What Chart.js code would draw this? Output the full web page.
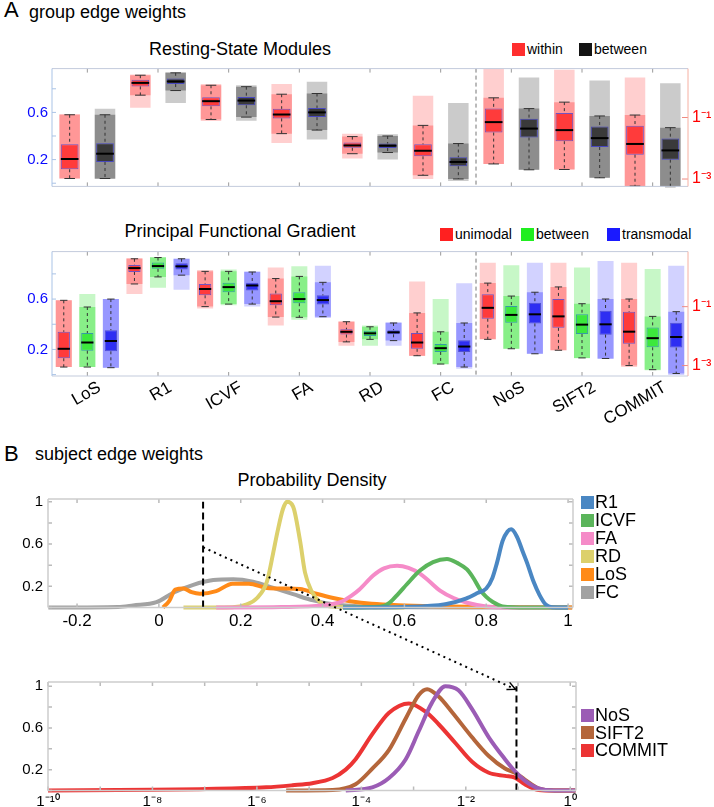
<!DOCTYPE html>
<html>
<head>
<meta charset="utf-8">
<script src="https://cdn.jsdelivr.net/npm/chart.js@4.4.1/dist/chart.umd.min.js"></script>
<style>
  body { margin: 0; width: 714px; height: 807px; position: relative; overflow: hidden; background: #fff;
         font-family: "Liberation Sans", Arial, sans-serif; color: #000; }
  canvas, .t, .item { position: absolute; }
  .t { line-height: 1; white-space: nowrap; }
  .c { text-align: center; }
  .item { display: flex; align-items: center; white-space: nowrap; }
  .sq { display: inline-block; width: 13px; height: 13px; margin-right: 2px; }
  #overlay { left: 0; top: 0; pointer-events: none; }
</style>
</head>
<body>

<div class="t" style="left:4px;top:-1px;font-size:22px">A</div>
<div class="t" style="left:29px;top:3px;font-size:18px">group edge weights</div>
<div class="t c" style="left:0;width:480px;top:40px;font-size:18px">Resting-State Modules</div>
<div class="item" style="left:512px;top:41px;font-size:14px"><span class="sq" style="background:#ff2e2e"></span>within</div>
<div class="item" style="left:579px;top:41px;font-size:14px"><span class="sq" style="background:#141414"></span>between</div>
<canvas id="rsChart" width="714" height="145" style="left:0;top:55px"></canvas>

<div class="t c" style="left:0;width:480px;top:222px;font-size:18px">Principal Functional Gradient</div>
<div class="item" style="left:440px;top:226px;font-size:14px"><span class="sq" style="background:#ff2020"></span>unimodal</div>
<div class="item" style="left:521px;top:226px;font-size:14px"><span class="sq" style="background:#20ee20"></span>between</div>
<div class="item" style="left:607px;top:226px;font-size:14px"><span class="sq" style="background:#1a1aff"></span>transmodal</div>
<canvas id="pfgChart" width="714" height="190" style="left:0;top:238px"></canvas>

<div class="t" style="left:4px;top:443px;font-size:22px">B</div>
<div class="t" style="left:35px;top:445px;font-size:18px">subject edge weights</div>
<div class="t c" style="left:0;width:624px;top:471px;font-size:18px">Probability Density</div>
<canvas id="densChart" width="714" height="145" style="left:0;top:485px"></canvas>
<div id="legTop"></div>

<canvas id="logChart" width="714" height="139" style="left:0;top:668px"></canvas>
<div id="legBottom"></div>

<canvas id="overlay" width="714" height="807"></canvas>

<script>
// categories
const measures = ['LoS', 'R1', 'ICVF', 'FA', 'RD', 'FC', 'NoS', 'SIFT2', 'COMMIT'];
const nLeft = 6; // first 6 on the linear (left) axis, the rest on the log10 (right) axis

// box stats: [lower whisker, q1, median, q3, upper whisker]; NoS/SIFT2/COMMIT given as log10
const rsWithin = [
  [0.04, 0.118, 0.205, 0.33, 0.58],
  [0.746, 0.82, 0.85, 0.877, 0.915],
  [0.54, 0.651, 0.695, 0.728, 0.83],
  [0.42, 0.549, 0.582, 0.63, 0.754],
  [0.25, 0.30, 0.32, 0.344, 0.395],
  [0.067, 0.228, 0.275, 0.33, 0.49],
  [-2.51, -1.49, -1.15, -0.71, -0.36],
  [-2.69, -1.77, -1.41, -0.85, -0.5],
  [-3.23, -2.21, -1.86, -1.27, -0.92]
];
const rsWithinCloud = [[0.04, 0.587], [0.64, 0.92], [0.528, 0.84], [0.34, 0.84], [0.21, 0.42],
  [0.036, 0.74], [-2.51, 0.59], [-2.69, 0.55], [-3.23, 0.3]];

const rsBetween = [
  [0.04, 0.18, 0.25, 0.338, 0.58],
  [0.785, 0.84, 0.862, 0.887, 0.935],
  [0.56, 0.66, 0.70, 0.73, 0.818],
  [0.45, 0.56, 0.60, 0.638, 0.76],
  [0.26, 0.298, 0.318, 0.336, 0.40],
  [0.036, 0.144, 0.18, 0.22, 0.336],
  [-2.7, -1.65, -1.36, -1.04, -0.71],
  [-2.96, -1.96, -1.67, -1.29, -0.95],
  [-3.25, -2.37, -2.07, -1.68, -1.33]
];
const rsBetweenCloud = [[0.036, 0.63], [0.68, 0.94], [0.53, 0.83], [0.37, 0.86], [0.20, 0.415],
  [0.018, 0.68], [-2.7, 0.30], [-2.96, 0.2], [-3.25, 0.11]];

const pfgUni = [
  [0.06, 0.13, 0.205, 0.34, 0.59],
  [0.72, 0.815, 0.846, 0.87, 0.92],
  [0.54, 0.63, 0.68, 0.72, 0.82],
  [0.457, 0.55, 0.583, 0.645, 0.763],
  [0.26, 0.318, 0.34, 0.36, 0.42],
  [0.15, 0.205, 0.255, 0.33, 0.49],
  [-2.11, -1.41, -1.04, -0.58, -0.2],
  [-2.48, -1.72, -1.33, -0.74, -0.33],
  [-3.0, -2.26, -1.85, -1.17, -0.74]
];
const pfgUniCloud = [[0.06, 0.59], [0.64, 0.927], [0.525, 0.83], [0.39, 0.85], [0.23, 0.424],
  [0.147, 0.74], [-2.11, 0.49], [-2.48, 0.49], [-3.05, 0.49]];

const pfgBetween = [
  [0.06, 0.19, 0.255, 0.33, 0.537],
  [0.776, 0.84, 0.862, 0.89, 0.93],
  [0.56, 0.655, 0.695, 0.73, 0.82],
  [0.455, 0.567, 0.60, 0.655, 0.78],
  [0.28, 0.306, 0.328, 0.348, 0.38],
  [0.084, 0.18, 0.21, 0.243, 0.34],
  [-2.43, -1.55, -1.28, -0.98, -0.64],
  [-2.74, -1.93, -1.61, -1.26, -0.9],
  [-3.14, -2.38, -2.07, -1.71, -1.33]
];
const pfgBetweenCloud = [[0.06, 0.64], [0.69, 0.935], [0.55, 0.835], [0.436, 0.86], [0.23, 0.39],
  [0.08, 0.60], [-2.43, 0.41], [-2.75, 0.33], [-3.16, 0.28]];

const pfgTrans = [
  [0.055, 0.185, 0.267, 0.353, 0.6],
  [0.79, 0.835, 0.86, 0.885, 0.92],
  [0.56, 0.668, 0.708, 0.73, 0.815],
  [0.46, 0.557, 0.592, 0.63, 0.733],
  [0.27, 0.32, 0.336, 0.353, 0.41],
  [0.06, 0.18, 0.223, 0.273, 0.41],
  [-2.6, -1.57, -1.26, -0.87, -0.51],
  [-2.76, -1.95, -1.6, -1.14, -0.74],
  [-3.27, -2.39, -2.03, -1.55, -1.17]
];
const pfgTransCloud = [[0.055, 0.6], [0.675, 0.92], [0.54, 0.82], [0.45, 0.865], [0.23, 0.417],
  [0.047, 0.726], [-2.6, 0.49], [-2.78, 0.55], [-3.32, 0.39]];

// density curves, panel B top: [value, density]
const r1Curve = [[0.45, 0], [0.6, 0.005], [0.7, 0.03], [0.75, 0.085], [0.78, 0.14], [0.80, 0.18], [0.815, 0.28],
  [0.826, 0.42], [0.84, 0.63], [0.852, 0.72], [0.861, 0.74], [0.875, 0.67], [0.89, 0.52], [0.90, 0.42],
  [0.915, 0.25], [0.93, 0.12], [0.945, 0.03], [0.96, 0.003], [1.0, 0]];
const icvfCurve = [[0.45, 0], [0.52, 0.004], [0.55, 0.015], [0.565, 0.05], [0.585, 0.13], [0.606, 0.22],
  [0.638, 0.35], [0.67, 0.43], [0.704, 0.46], [0.73, 0.42], [0.753, 0.36], [0.77, 0.27], [0.785, 0.17],
  [0.80, 0.1], [0.817, 0.05], [0.84, 0.01], [0.9, 0], [1.0, 0]];
const faCurve = [[0.14, 0], [0.3, 0.004], [0.40, 0.02], [0.443, 0.05], [0.47, 0.11], [0.49, 0.17],
  [0.523, 0.3], [0.55, 0.37], [0.582, 0.395], [0.61, 0.375], [0.638, 0.32], [0.66, 0.25], [0.687, 0.16],
  [0.72, 0.09], [0.753, 0.045], [0.80, 0.01], [0.85, 0], [1.0, 0]];
const rdCurve = [[0.06, 0], [0.18, 0.003], [0.215, 0.03], [0.24, 0.09], [0.264, 0.245], [0.279, 0.51],
  [0.29, 0.72], [0.303, 0.93], [0.313, 1.0], [0.328, 0.955], [0.345, 0.63], [0.357, 0.333], [0.373, 0.155],
  [0.394, 0.05], [0.42, 0.01], [0.5, 0], [0.6, 0]];
const losCurve = [[0.01, 0], [0.025, 0.06], [0.04, 0.17], [0.06, 0.18], [0.08, 0.145], [0.1, 0.13],
  [0.14, 0.155], [0.18, 0.225], [0.22, 0.225], [0.264, 0.185], [0.3, 0.18], [0.345, 0.175], [0.385, 0.13],
  [0.426, 0.09], [0.467, 0.06], [0.52, 0.035], [0.6, 0.02], [0.7, 0.01], [0.85, 0.004], [1.01, 0]];
const fcCurve = [[-0.27, 0], [-0.1, 0.005], [-0.063, 0.02], [-0.006, 0.05], [0.035, 0.14], [0.084, 0.215],
  [0.133, 0.26], [0.182, 0.268], [0.23, 0.245], [0.28, 0.185], [0.328, 0.126], [0.377, 0.067],
  [0.426, 0.03], [0.5, 0.008], [0.6, 0.002], [0.75, 0], [1.01, 0]];

// density curves, panel B bottom: [log10 value, density]
const nosCurve = [[-4.3, 0], [-3.79, 0.03], [-3.47, 0.12], [-3.15, 0.3], [-2.9, 0.57], [-2.65, 0.84],
  [-2.39, 1.0], [-2.14, 0.96], [-1.88, 0.78], [-1.56, 0.51], [-1.25, 0.3], [-1.06, 0.185], [-0.87, 0.095],
  [-0.61, 0.02], [-0.3, 0], [0.1, 0]];
const sift2Curve = [[-5.44, 0], [-4.55, 0.005], [-4.11, 0.06], [-3.79, 0.21], [-3.47, 0.39], [-3.15, 0.69],
  [-2.9, 0.915], [-2.74, 0.97], [-2.52, 0.9], [-2.27, 0.755], [-1.88, 0.51], [-1.56, 0.33], [-1.25, 0.21],
  [-1.06, 0.17], [-0.87, 0.105], [-0.61, 0.02], [-0.3, 0], [0.1, 0]];
const commitCurve = [[-10, 0], [-8, 0.006], [-7.1, 0.013], [-5.82, 0.03], [-5.32, 0.05], [-4.94, 0.07],
  [-4.55, 0.12], [-4.3, 0.2], [-4.11, 0.3], [-3.79, 0.54], [-3.47, 0.745], [-3.09, 0.835], [-2.77, 0.755],
  [-2.52, 0.635], [-2.2, 0.455], [-1.88, 0.275], [-1.56, 0.17], [-1.25, 0.14], [-1.06, 0.124],
  [-0.87, 0.06], [-0.61, 0.005], [-0.3, 0], [0.1, 0]];

// thresholds marked by the dashed lines, and the dotted arrow between them
const cutoffLinear = 0.108;
const cutoffLog = -1.03;
const arrowFrom = [0.108, 0.57];
const arrowTo = [-1.05, 0.97];

const sup = { '-': '\u207B', '0': '\u2070', '1': '\u00B9', '2': '\u00B2', '3': '\u00B3', '4': '\u2074',
  '5': '\u2075', '6': '\u2076', '7': '\u2077', '8': '\u2078', '9': '\u2079' };
function powLabel(e) {
  return '1' + String(e).split('').map(c => sup[c]).join('');
}
function near(a, b) { return Math.abs(a - b) < 1e-6; }

const FONT = '"Liberation Sans", Arial, sans-serif';
Chart.defaults.font.family = FONT;
Chart.defaults.color = '#000';

// draws the plot frame and inward tick marks (matlab style)
const frame = {
  id: 'frame',
  afterDatasetsDraw(chart, args, o) {
    const { ctx, chartArea: a } = chart;
    ctx.save();
    ctx.lineWidth = o.width || 1;
    (o.marks || []).forEach(m => {
      const sc = chart.scales[m.axis];
      ctx.strokeStyle = m.color;
      ctx.beginPath();
      sc.ticks.forEach((t, i) => {
        if (m.labeledOnly && !t.label) return;
        const p = sc.getPixelForTick(i);
        if (sc.isHorizontal()) {
          ctx.moveTo(p, a.top); ctx.lineTo(p, a.top + m.len);
          ctx.moveTo(p, a.bottom); ctx.lineTo(p, a.bottom - m.len);
        } else {
          m.edges.forEach(e => {
            const x = e === 'left' ? a.left : a.right;
            ctx.moveTo(x, p); ctx.lineTo(e === 'left' ? x + m.len : x - m.len, p);
          });
        }
      });
      ctx.stroke();
    });
    const side = (c, x1, y1, x2, y2) => {
      ctx.strokeStyle = c; ctx.beginPath(); ctx.moveTo(x1, y1); ctx.lineTo(x2, y2); ctx.stroke();
    };
    side(o.top, a.left, a.top, a.right, a.top);
    side(o.bottom, a.left, a.bottom, a.right, a.bottom);
    side(o.left, a.left, a.top, a.left, a.bottom);
    side(o.right, a.right, a.top, a.right, a.bottom);
    ctx.restore();
  }
};

// separator line, whiskers, medians and the slanted category labels for the box plots
const boxDecor = {
  id: 'boxDecor',
  beforeDatasetsDraw(chart, args, o) {
    const { ctx, chartArea: a } = chart;
    const x = chart.scales.x.getPixelForValue(o.split);
    ctx.save();
    ctx.strokeStyle = '#777';
    ctx.lineWidth = 1;
    ctx.setLineDash([4, 3]);
    ctx.beginPath(); ctx.moveTo(x, a.top); ctx.lineTo(x, a.bottom); ctx.stroke();
    ctx.restore();
  },
  afterDatasetsDraw(chart) {
    const ctx = chart.ctx;
    ctx.save();
    chart.data.datasets.forEach((ds, i) => {
      if (!ds.stats) return;
      const ys = chart.scales[ds.yAxisID];
      chart.getDatasetMeta(i).data.forEach((bar, j) => {
        const s = ds.stats[j];
        if (!s) return;
        const [lo, q1, med, q3, hi] = s.map(v => ys.getPixelForValue(v));
        const x = bar.x, w = bar.width;
        ctx.strokeStyle = '#333';
        ctx.lineWidth = 1;
        ctx.setLineDash([3, 3]);
        ctx.beginPath();
        ctx.moveTo(x, hi); ctx.lineTo(x, q3);
        ctx.moveTo(x, q1); ctx.lineTo(x, lo);
        ctx.stroke();
        ctx.setLineDash([]);
        ctx.beginPath();
        ctx.moveTo(x - w * 0.3, hi); ctx.lineTo(x + w * 0.3, hi);
        ctx.moveTo(x - w * 0.3, lo); ctx.lineTo(x + w * 0.3, lo);
        ctx.stroke();
        ctx.strokeStyle = '#000';
        ctx.lineWidth = 2;
        ctx.beginPath(); ctx.moveTo(x - w / 2, med); ctx.lineTo(x + w / 2, med); ctx.stroke();
      });
    });
    ctx.restore();
  },
  afterDraw(chart, args, o) {
    if (!o.labels) return;
    const { ctx, chartArea: a } = chart;
    const sc = chart.scales.x;
    ctx.save();
    ctx.font = '17px ' + FONT;
    ctx.fillStyle = '#000';
    ctx.textAlign = 'right';
    ctx.textBaseline = 'top';
    sc.ticks.forEach((t, i) => {
      ctx.save();
      ctx.translate(sc.getPixelForTick(i) + 8, a.bottom + 3);
      ctx.rotate(-Math.PI / 6);
      ctx.fillText(chart.data.labels[i], 0, 0);
      ctx.restore();
    });
    ctx.restore();
  }
};

// vertical dashed threshold line in the density plots
const cutoff = {
  id: 'cutoff',
  afterDatasetsDraw(chart, args, o) {
    const { ctx, scales } = chart;
    const x = scales.x.getPixelForValue(o.x);
    ctx.save();
    ctx.strokeStyle = '#000';
    ctx.lineWidth = 2;
    ctx.setLineDash([7, 4]);
    ctx.beginPath();
    ctx.moveTo(x, scales.y.getPixelForValue(0));
    ctx.lineTo(x, scales.y.getPixelForValue(o.top));
    ctx.stroke();
    ctx.restore();
  }
};

// one group of box plots -> cloud, dense cloud and box datasets on both y axes
function boxSets(stack, stats, clouds, col, cloudW, boxW) {
  const sets = [];
  [['y', i => i < nLeft], ['y2', i => i >= nLeft]].forEach(([axis, onSide]) => {
    const pick = f => stats.map((s, i) => onSide(i) ? f(s, clouds[i]) : null);
    const common = { yAxisID: axis, stack, categoryPercentage: 1.0, borderSkipped: false };
    sets.push({ ...common, data: pick((s, c) => c), order: 3, backgroundColor: col.sparse,
      borderWidth: 0, barPercentage: cloudW });
    sets.push({ ...common, data: pick(s => [s[0], s[4]]), order: 2, backgroundColor: col.dense,
      borderWidth: 0, barPercentage: cloudW });
    sets.push({ ...common, data: pick(s => [s[1], s[3]]), stats: pick(s => s), order: 1,
      backgroundColor: col.box, borderColor: col.edge, borderWidth: 1, barPercentage: boxW });
  });
  return sets;
}

const noGrid = { display: false, drawTicks: false };

function boxChart(id, sets, yRange, y2Range, xHeight, showLabels) {
  return new Chart(document.getElementById(id), {
    type: 'bar',
    data: { labels: measures, datasets: sets },
    options: {
      responsive: false,
      animation: false,
      layout: { padding: { top: 7 } },
      plugins: {
        legend: { display: false },
        tooltip: { enabled: false },
        boxDecor: { split: nLeft - 0.5, labels: showLabels },
        frame: {
          top: '#c3cbdc', bottom: '#c3cbdc', left: '#a9c3e6', right: '#f6b0a2',
          marks: [
            { axis: 'x', len: 4, color: '#999' },
            { axis: 'y', edges: ['left'], len: 4, color: '#a9c3e6' },
            { axis: 'y2', edges: ['right'], len: 6, color: '#f08a80', labeledOnly: true }
          ]
        }
      },
      scales: {
        x: {
          grid: noGrid, border: { display: false },
          ticks: { display: false },
          afterFit: s => { s.height = xHeight; }
        },
        y: {
          position: 'left', min: yRange[0], max: yRange[1], stacked: false,
          grid: noGrid, border: { display: false },
          ticks: { stepSize: 0.2, includeBounds: false, autoSkip: false, color: '#0a0aff',
                   font: { size: 15 }, padding: 4,
                   callback: v => (near(v, 0.2) || near(v, 0.6)) ? String(Math.round(v * 10) / 10) : '' },
          afterFit: s => { s.width = 52; }
        },
        y2: {
          position: 'right', min: y2Range[0], max: y2Range[1], stacked: false,
          grid: noGrid, border: { display: false },
          ticks: { stepSize: 1, includeBounds: false, autoSkip: false, color: '#ff0000',
                   font: { size: 16 }, padding: 4,
                   callback: v => (near(v, -1) || near(v, -3)) ? powLabel(Math.round(v)) : '' },
          afterFit: s => { s.width = 26; }
        }
      }
    },
    plugins: [boxDecor, frame]
  });
}

const red = { sparse: 'rgba(255,95,95,0.3)', dense: 'rgba(255,95,95,0.5)', box: '#ff3b3b', edge: 'rgba(90,70,200,0.85)' };
const gray = { sparse: 'rgba(110,110,110,0.36)', dense: 'rgba(100,100,100,0.6)', box: '#3a3a3a', edge: 'rgba(60,60,200,0.85)' };
const green = { sparse: 'rgba(70,230,70,0.3)', dense: 'rgba(70,230,70,0.48)', box: '#3de83d', edge: 'rgba(40,140,170,0.85)' };
const blue = { sparse: 'rgba(80,80,255,0.26)', dense: 'rgba(80,80,255,0.46)', box: '#2e2ef2', edge: '#5050d0' };

boxChart('rsChart',
  [...boxSets('w', rsWithin, rsWithinCloud, red, 0.58, 0.5),
   ...boxSets('b', rsBetween, rsBetweenCloud, gray, 0.58, 0.5)],
  [-0.027, 0.971], [-3.24, 0.59], 8, false);

boxChart('pfgChart',
  [...boxSets('u', pfgUni, pfgUniCloud, red, 0.68, 0.52),
   ...boxSets('b', pfgBetween, pfgBetweenCloud, green, 0.68, 0.52),
   ...boxSets('t', pfgTrans, pfgTransCloud, blue, 0.68, 0.52)],
  [-0.011, 0.977], [-3.355, 0.87], 52, true);

function curveSet(label, pts, color) {
  return { label, data: pts.map(p => ({ x: p[0], y: p[1] })), borderColor: color, backgroundColor: color,
           borderWidth: 4, pointRadius: 0, cubicInterpolationMode: 'monotone', fill: false, clip: false };
}

function densityChart(id, sets, xRange, yMax, xStep, xLabel, xFont, xPad, cut, xHeight, padRight) {
  return new Chart(document.getElementById(id), {
    type: 'line',
    data: { datasets: sets },
    options: {
      responsive: false,
      animation: false,
      layout: { padding: { top: 7, right: padRight } },
      plugins: {
        legend: { display: false },
        tooltip: { enabled: false },
        cutoff: { x: cut, top: 1.0 },
        frame: {
          top: '#cdcdcd', bottom: '#cdcdcd', left: '#cdcdcd', right: '#cdcdcd', width: 1.5,
          marks: [
            { axis: 'x', len: 4, color: '#bbb' },
            { axis: 'y', edges: ['left', 'right'], len: 4, color: '#bbb' }
          ]
        }
      },
      scales: {
        x: {
          type: 'linear', min: xRange[0], max: xRange[1],
          grid: noGrid, border: { display: false },
          ticks: { stepSize: xStep, includeBounds: false, autoSkip: false, maxRotation: 0, padding: xPad,
                   font: { size: xFont }, callback: xLabel },
          afterFit: s => { s.height = xHeight; }
        },
        y: {
          min: 0, max: yMax,
          grid: noGrid, border: { display: false },
          ticks: { stepSize: 0.2, includeBounds: false, autoSkip: false, font: { size: 15 }, padding: 5,
                   callback: v => (near(v, 1) || near(v, 0.6) || near(v, 0.2)) ? String(Math.round(v * 10) / 10) : '' },
          afterFit: s => { s.width = 48; }
        }
      }
    },
    plugins: [cutoff, frame]
  });
}

const topCurves = [
  ['R1', r1Curve, '#4a87c3'], ['ICVF', icvfCurve, '#5bb55b'], ['FA', faCurve, '#f58bc8'],
  ['RD', rdCurve, '#dcd06c'], ['LoS', losCurve, '#ff8a18'], ['FC', fcCurve, '#a2a2a2']
];
const bottomCurves = [
  ['NoS', nosCurve, '#9b5cb5'], ['SIFT2', sift2Curve, '#b4663b'], ['COMMIT', commitCurve, '#ec3434']
];

const densTop = densityChart('densChart', topCurves.map(c => curveSet(...c)), [-0.271, 1.012], 1.027, 0.2,
  v => String(Math.round(v * 10) / 10), 17, 4, cutoffLinear, 22.5, 141);

const densLog = densityChart('logChart', bottomCurves.map(c => curveSet(...c)), [-10, 0.11], 1.04, 1,
  v => (Math.round(v) % 2 === 0) ? powLabel(Math.round(v)) : '', 15, 2, cutoffLog, 16.5, 138);

// legends for panel B
function legend(el, items, left, top, step) {
  items.forEach((it, i) => {
    const d = document.createElement('div');
    d.className = 'item';
    d.style.cssText = `left:${left}px;top:${top + i * step}px;font-size:18px;line-height:18px`;
    d.innerHTML = `<span class="sq" style="background:${it[2]};margin-right:1px"></span>${it[0]}`;
    el.appendChild(d);
  });
}
legend(document.getElementById('legTop'), topCurves, 581, 493, 18);
legend(document.getElementById('legBottom'), bottomCurves, 581, 706, 17.5);

// dotted arrow linking the two thresholds
(function () {
  const ctx = document.getElementById('overlay').getContext('2d');
  const c1 = densTop.canvas, c2 = densLog.canvas;
  const x0 = densTop.scales.x.getPixelForValue(arrowFrom[0]) + c1.offsetLeft;
  const y0 = densTop.scales.y.getPixelForValue(arrowFrom[1]) + c1.offsetTop;
  const x1 = densLog.scales.x.getPixelForValue(arrowTo[0]) + c2.offsetLeft;
  const y1 = densLog.scales.y.getPixelForValue(arrowTo[1]) + c2.offsetTop;
  ctx.strokeStyle = '#000';
  ctx.lineWidth = 2;
  ctx.setLineDash([2, 4]);
  ctx.beginPath(); ctx.moveTo(x0, y0); ctx.lineTo(x1, y1); ctx.stroke();
  ctx.setLineDash([]);
  ctx.lineWidth = 1.5;
  const ang = Math.atan2(y1 - y0, x1 - x0);
  ctx.beginPath();
  ctx.moveTo(x1 - 9 * Math.cos(ang - 0.45), y1 - 9 * Math.sin(ang - 0.45));
  ctx.lineTo(x1, y1);
  ctx.lineTo(x1 - 9 * Math.cos(ang + 0.45), y1 - 9 * Math.sin(ang + 0.45));
  ctx.stroke();
})();
</script>
</body>
</html>
